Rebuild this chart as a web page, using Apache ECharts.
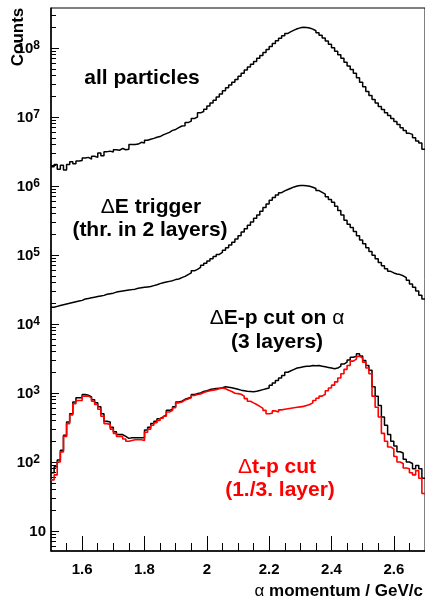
<!DOCTYPE html>
<html><head><meta charset="utf-8">
<script src="https://cdn.jsdelivr.net/npm/echarts@6/dist/echarts.min.js"></script>
<style>html,body{margin:0;padding:0;background:#fff}#c{width:425px;height:602px}</style>
</head><body><div id="c"></div>
<script>
// ---- data: histogram bins of width 0.01 GeV/c starting at 1.50 ----
const binStart = 1.5;
const binWidth = 0.01;
// all particles, counts in millions
const allParticlesM = [
 1.9,2.05,1.75,2.0,1.7,2.05,2.25,2.1,2.3,2.35,
 2.55,2.6,2.45,2.7,2.6,3.0,2.75,3.15,3.2,3.1,
 3.35,3.3,3.5,3.35,3.4,4.0,4.0,4.05,4.3,4.2,
 4.6,4.75,4.9,5.1,5.2,5.5,5.75,6.0,6.4,6.6,
 7.0,7.4,7.5,8.3,8.7,9.5,10.0,11.5,12.0,13.0,
 14.5,16.0,17.5,19.5,21.5,24,26.5,29,32,35,
 39,43,48,53,58,64,71,78,86,95,
 105,116,127,139,151,163,173,182,190,196,
 200,199,195,188,178,166,153,140,126,113,
 101,90,80,71,62,55,49,43,37,32,
 27.5,23.5,20.5,18,16,14.2,12.8,11.5,10.5,9.5,
 8.6,7.8,7.0,6.4,5.8,5.6,5.0,4.5,4.2,3.4];
// dE trigger, counts in units of 1e4
const dETriggerT = [
 1.75,1.8,1.85,1.9,1.95,2.0,2.05,2.1,2.15,2.2,
 2.3,2.35,2.4,2.45,2.5,2.55,2.6,2.7,2.75,2.8,
 2.9,2.95,3.0,3.05,3.1,3.15,3.2,3.3,3.35,3.4,
 3.45,3.5,3.6,3.7,3.85,3.95,4.05,4.15,4.25,4.4,
 4.5,4.7,4.9,5.2,5.5,5.9,6.2,6.6,7.1,7.6,
 8.2,8.8,9.5,10.2,10.9,11.7,12.7,14,15.3,17,
 19,21.5,24,27,30,34,38,43,49,55,
 62,68,74,80,85,89,93,97,100,102,
 102,101,99,96,92,86,81,76,70,64,
 58,51,44,38,32,28,25,22,19,16.5,
 14.5,12.7,11.2,9.9,8.8,7.8,7.0,6.3,5.8,5.5,
 5.3,5.2,5.0,4.7,4.3,3.8,3.4,3.0,2.6,2.3];
// dE-p cut on alpha (3 layers), counts
const dEpCut = [
 70,85,107,148,245,380,500,740,850,850,
 950,930,880,800,720,630,500,390,380,320,
 275,250,250,235,220,225,225,225,225,225,
 290,320,360,390,425,450,480,560,580,630,
 740,760,810,840,870,955,980,1000,1050,1080,
 1120,1140,1160,1175,1190,1230,1210,1190,1160,1130,
 1100,1080,1060,1050,1040,1060,1090,1120,1150,1180,
 1300,1400,1520,1650,1800,2000,2100,2200,2300,2350,
 2400,2450,2450,2500,2480,2500,2450,2400,2350,2300,
 2240,2300,2450,2630,2800,3000,3300,3400,3700,3450,
 2950,2500,2140,1230,900,660,450,340,250,200,
 170,141,135,110,100,95,80,89,80,58];
// dt-p cut (1./3. layer), counts
const dtpCut = [
 55,65,100,140,235,360,480,700,780,780,
 900,900,850,760,680,580,460,360,350,300,
 260,235,235,215,200,205,210,210,210,205,
 270,300,340,370,400,430,460,530,560,610,
 720,740,790,820,850,920,950,970,1020,1050,
 1080,1100,1120,1150,1180,1150,1100,1050,990,980,
 960,900,830,760,720,680,640,600,560,500,
 510,550,530,570,580,590,600,610,620,630,
 640,660,680,720,780,840,900,960,1080,1180,
 1300,1450,1650,1900,2200,2500,2900,3100,3400,3200,
 2800,2300,1900,900,620,450,260,200,165,155,
 120,100,95,82,80,70,65,75,58,35];
const xMajorTicks = [1.6, 1.8, 2.0, 2.2, 2.4, 2.6];
const yDecades = [1, 2, 3, 4, 5, 6, 7, 8];

// ---- build ----
const allParticles = allParticlesM.map(v => v * 1e6);
const dETrigger = dETriggerT.map(v => v * 1e4);
function steps(arr) {
  const pts = arr.map((v, i) => [+(binStart + i * binWidth).toFixed(3), Math.log10(v)]);
  pts.push([+(binStart + arr.length * binWidth).toFixed(3), Math.log10(arr[arr.length - 1])]);
  return pts;
}
const xMin = 1.5, xMax = 2.7, yMin = 0.71, yMax = 8.58;
const xMinor = [];
for (let k = 31; k <= 53; k++) {
  const v = +(k * 0.05).toFixed(2);
  if (v > xMin && v < xMax && !xMajorTicks.some(m => Math.abs(m - v) < 1e-6)) xMinor.push(v);
}
const yMinor = [];
for (let n = 0; n <= 8; n++) for (let k = 2; k <= 9; k++) {
  const v = Math.log10(k) + n;
  if (v > yMin && v < yMax) yMinor.push(v);
}
const F = '"Liberation Sans", Arial, Helvetica, sans-serif';
const chart = echarts.init(document.getElementById('c'), null, {renderer: 'canvas'});

function label(x, y, parts, color, size) {
  const txt = parts.map(p => (p[1] ? '{b|' : '{g|') + p[0] + '}').join('');
  return {
    type: 'text', x: x, y: y, z: 100,
    style: {
      text: txt, align: 'center', verticalAlign: 'middle',
      font: 'bold ' + size + 'px ' + F, fill: color,
      rich: {
        b: {fontSize: size, fontWeight: 'bold', fontFamily: F, fill: color},
        g: {fontSize: size, fontWeight: 'normal', fontFamily: F, fill: color}
      }
    }
  };
}

const black = '#000000', red = '#ff0000';
chart.setOption({
  animation: false,
  backgroundColor: '#ffffff',
  grid: {left: 51, right: -1, top: 8, bottom: 51, show: true, borderColor: '#000', borderWidth: 1, backgroundColor: 'transparent'},
  xAxis: [{
    type: 'value', min: xMin, max: xMax, position: 'bottom',
    axisLine: {show: true, onZero: false, lineStyle: {color: '#000', width: 1.5}},
    axisTick: {show: true, inside: true, length: 15, customValues: xMajorTicks, lineStyle: {color: '#000', width: 1}},
    axisLabel: {show: true, customValues: xMajorTicks, margin: 11, color: '#000', fontSize: 15, fontWeight: 'bold', fontFamily: F,
      formatter: v => String(+(+v).toFixed(1))},
    splitLine: {show: false}
  }, {
    type: 'value', min: xMin, max: xMax, position: 'bottom', gridIndex: 0,
    axisLine: {show: false, onZero: false},
    axisTick: {show: true, inside: true, length: 8, customValues: xMinor, lineStyle: {color: '#000', width: 1}},
    axisLabel: {show: false},
    splitLine: {show: false}
  }],
  yAxis: [{
    type: 'value', min: yMin, max: yMax, position: 'left',
    axisLine: {show: true, onZero: false, lineStyle: {color: '#000', width: 1.5}},
    axisTick: {show: true, inside: true, length: 8, customValues: yDecades, lineStyle: {color: '#000', width: 1}},
    axisLabel: {show: true, customValues: yDecades, margin: 5,
      formatter: v => (Math.round(v) === 1 ? '{b|10}' : '{b|10}{s|' + Math.round(v) + '}'),
      rich: {
        b: {fontSize: 15, fontWeight: 'bold', fontFamily: F, color: '#000', lineHeight: 16, padding: [5, 0, 0, 0], verticalAlign: 'bottom'},
        s: {fontSize: 12, fontWeight: 'bold', fontFamily: F, color: '#000', lineHeight: 14, padding: [0, 6, 0, 0], verticalAlign: 'top'}
      }},
    splitLine: {show: false}
  }, {
    type: 'value', min: yMin, max: yMax, position: 'left', gridIndex: 0,
    axisLine: {show: false, onZero: false},
    axisTick: {show: true, inside: true, length: 5, customValues: yMinor, lineStyle: {color: '#000', width: 1}},
    axisLabel: {show: false},
    splitLine: {show: false}
  }],
  series: [
    {name: 'all particles', type: 'line', step: 'end', showSymbol: false, data: steps(allParticles), lineStyle: {color: black, width: 1.5}, itemStyle: {color: black}, z: 3},
    {name: 'ΔE trigger', type: 'line', step: 'end', showSymbol: false, data: steps(dETrigger), lineStyle: {color: black, width: 1.5}, itemStyle: {color: black}, z: 3},
    {name: 'ΔE-p cut on α', type: 'line', step: 'end', showSymbol: false, data: steps(dEpCut), lineStyle: {color: black, width: 1.5}, itemStyle: {color: black}, z: 3},
    {name: 'Δt-p cut', type: 'line', step: 'end', showSymbol: false, data: steps(dtpCut), lineStyle: {color: red, width: 1.6}, itemStyle: {color: red}, z: 4}
  ],
  graphic: [
    {type: 'text', x: 18, y: 37, rotation: Math.PI / 2, z: 100,
      style: {text: 'Counts', align: 'center', verticalAlign: 'middle', font: 'bold 17px ' + F, fill: '#000'}},
    {type: 'text', x: 423, y: 591, z: 100,
      style: {text: '{g|α}{b| momentum / GeV/c}', align: 'right', verticalAlign: 'middle', font: 'bold 17px ' + F, fill: '#000',
        rich: {b: {fontSize: 17, fontWeight: 'bold', fontFamily: F, fill: '#000'}, g: {fontSize: 17, fontWeight: 'normal', fontFamily: F, fill: '#000'}}}},
    label(142, 78, [['all particles', true]], black, 21),
    label(151, 207, [['Δ', false], ['E trigger', true]], black, 21),
    label(150, 230, [['(thr. in 2 layers)', true]], black, 21),
    label(277, 318, [['Δ', false], ['E-p cut on ', true], ['α', false]], black, 21),
    label(277, 342, [['(3 layers)', true]], black, 21),
    label(277, 467, [['Δ', false], ['t-p cut', true]], red, 21),
    label(280, 490, [['(1./3. layer)', true]], red, 21)
  ]
});
</script>
</body></html>
